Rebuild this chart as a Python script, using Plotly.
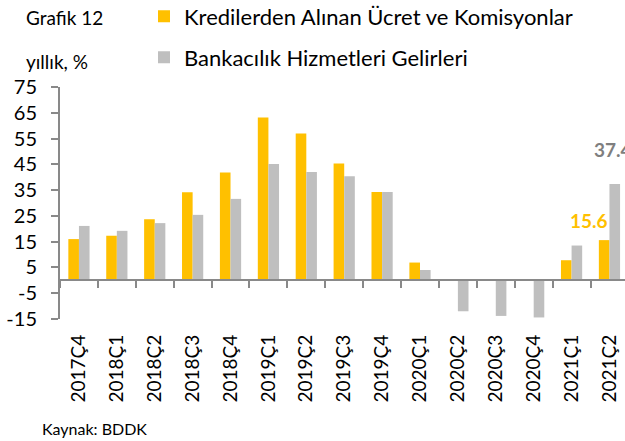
import plotly.graph_objects as go

categories = ["2017Ç4", "2018Ç1", "2018Ç2", "2018Ç3", "2018Ç4", "2019Ç1", "2019Ç2",
              "2019Ç3", "2019Ç4", "2020Ç1", "2020Ç2", "2020Ç3", "2020Ç4", "2021Ç1", "2021Ç2"]
krediler = [16.0, 17.3, 23.7, 34.2, 41.8, 63.2, 57.0, 45.3, 34.3, 6.9, 0.0, 0.0, 0.0, 7.8, 15.6]
bankacilik = [21.1, 19.2, 22.2, 25.4, 31.6, 45.1, 42.0, 40.4, 34.3, 4.0, -12.0, -13.8, -14.4, 13.5, 37.4]
series_names = ["Kredilerden Alınan Ücret ve Komisyonlar", "Bankacılık Hizmetleri Gelirleri"]
y_ticks = [-15, -5, 5, 15, 25, 35, 45, 55, 65, 75]

YELLOW = "#FFC000"
GRAY = "#BFBFBF"
AXIS = "#898989"
FONT = "Lato"

n = len(categories)
W, H = 625, 441
ml, mr, mt, mb = 60, 0, 87, 122
pw, ph = W - ml - mr, H - mt - mb
ymin, ymax = -15, 75
xr = [-0.5, 14.41]


def px_x(p):
    return (p - ml) / pw


def px_y(p):
    return (H - mb - p) / ph


fig = go.Figure()
fig.add_trace(go.Bar(x=categories, y=krediler, name=series_names[0],
                     marker=dict(color=YELLOW, line=dict(width=0)), legend="legend"))
fig.add_trace(go.Bar(x=categories, y=bankacilik, name=series_names[1],
                     marker=dict(color=GRAY, line=dict(width=0)), legend="legend2"))
# label axis (bottom)
fig.add_trace(go.Scatter(x=[], y=[], xaxis="x2", yaxis="y", showlegend=False, hoverinfo="skip"))

fig.update_layout(
    width=W, height=H,
    margin=dict(l=ml, r=mr, t=mt, b=mb, pad=0, autoexpand=False),
    paper_bgcolor="white", plot_bgcolor="white",
    barmode="group", bargap=0.44, bargroupgap=0,
    font=dict(family=FONT, size=18, color="#000000"),
    showlegend=True,
    legend=dict(xref="container", yref="container", x=144 / W, y=1 - 16.5 / H,
                xanchor="left", yanchor="middle", bgcolor="rgba(0,0,0,0)",
                font=dict(family=FONT, size=22, color="#000000"), borderwidth=0),
    legend2=dict(xref="container", yref="container", x=144 / W, y=1 - 57.5 / H,
                 xanchor="left", yanchor="middle", bgcolor="rgba(0,0,0,0)",
                 font=dict(family=FONT, size=22, color="#000000"), borderwidth=0),
    xaxis=dict(type="category", range=xr, anchor="free",
               position=(0 - ymin) / (ymax - ymin),
               showline=True, linecolor=AXIS, linewidth=2,
               ticks="outside", tickson="boundaries", ticklen=7, tickwidth=2, tickcolor=AXIS,
               showticklabels=False, showgrid=False, zeroline=False, fixedrange=True,
               automargin=False),
    xaxis2=dict(type="linear", range=xr, anchor="y", overlaying="x",
                tickmode="array", tickvals=list(range(n)), ticktext=categories,
                tickangle=-90, ticks="", showline=False, showgrid=False, zeroline=False,
                ticklabelstandoff=11, automargin=False,
                tickfont=dict(family=FONT, size=19, color="#000000")),
    yaxis=dict(range=[ymin, ymax], tickmode="array", tickvals=y_ticks,
               ticktext=[str(v) for v in y_ticks],
               showline=True, linecolor=AXIS, linewidth=2,
               ticks="outside", ticklen=7, tickwidth=2, tickcolor=AXIS,
               showgrid=False, zeroline=False, ticklabelstandoff=10, automargin=False,
               tickfont=dict(family=FONT, size=20, color="#000000")),
)

annotations = [
    dict(text="Grafik 12", x=px_x(24), y=px_y(17), xref="paper", yref="paper",
         xanchor="left", yanchor="middle", showarrow=False,
         font=dict(family=FONT, size=19, color="#000000")),
    dict(text="yıllık, %", x=px_x(24), y=px_y(62), xref="paper", yref="paper",
         xanchor="left", yanchor="middle", showarrow=False,
         font=dict(family=FONT, size=19, color="#000000")),
    dict(text="Kaynak: BDDK", x=px_x(40), y=px_y(428), xref="paper", yref="paper",
         xanchor="left", yanchor="middle", showarrow=False,
         font=dict(family=FONT, size=16, color="#000000")),
    dict(text=f"<b>{krediler[-1]:.1f}</b>", x=categories[-1], y=krediler[-1],
         xref="x", yref="y", xshift=-20, yshift=20, xanchor="center", yanchor="middle",
         showarrow=False, font=dict(family=FONT, size=19, color=YELLOW)),
    dict(text=f"<b>{bankacilik[-1]:.1f}</b>", x=categories[-1], y=bankacilik[-1],
         xref="x", yref="y", xshift=-17, yshift=34, xanchor="left", yanchor="middle",
         showarrow=False, font=dict(family=FONT, size=19, color="#7F7F7F")),
]
fig.update_layout(annotations=annotations)

fig.write_html("out.html")
